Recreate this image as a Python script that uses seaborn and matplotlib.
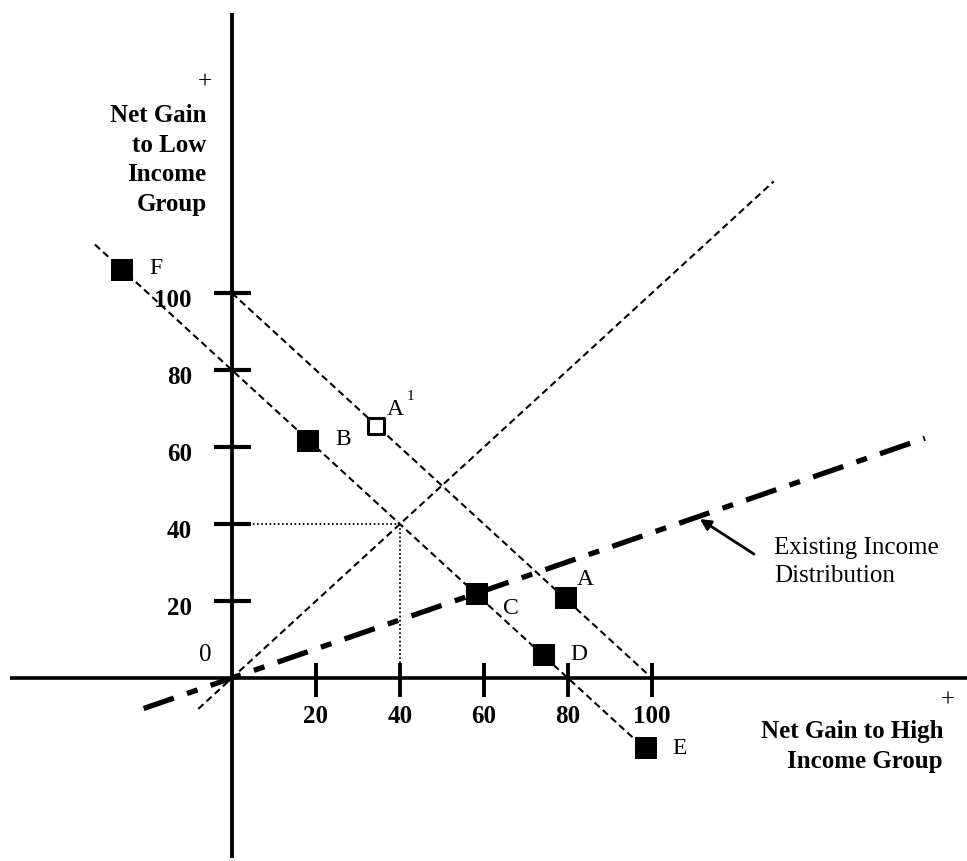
import matplotlib
matplotlib.use("Agg")
import matplotlib.pyplot as plt
import seaborn as sns

# points
point_names = ["A", "A1", "B", "C", "D", "E", "F"]
point_x = [79.5, 34.3, 18.1, 58.3, 74.3, 98.6, -26.2]
point_y = [20.8, 65.5, 61.6, 21.8, 6.0, -18.2, 106.0]
point_filled = [True, False, True, True, True, True, True]

# lines (end points)
upper_x = [0, 100]
upper_y = [100, 0]
lower_x = [-32.6, 98.6]
lower_y = [112.6, -18.6]
equal_x = [-8, 129]
equal_y = [-8, 129]
existing_x = [-21, 165]
existing_y = [-7.9, 62.3]

# axes and ticks
xaxis_x = [-52.9, 175]
yaxis_y = [-46.8, 172.7]
tick_values = [20, 40, 60, 80, 100]
tick_labels = ["20", "40", "60", "80", "100"]
guide_value = 40

sns.set_theme(style="white")
plt.rcParams["font.family"] = ["Liberation Serif", "DejaVu Serif"]
plt.rcParams["lines.scale_dashes"] = False
plt.rcParams["text.color"] = "black"

fig = plt.figure(figsize=(9.67, 8.61), dpi=100)
ax = fig.add_axes([0, 0, 1, 1])
ax.set_xlim(-55.2, 175)
ax.set_ylim(-47.5, 176.1)
ax.axis("off")


def draw(xs, ys, lw, dashes=None, z=2):
    sns.lineplot(x=xs, y=ys, ax=ax, color="black", linewidth=lw,
                 sort=False, estimator=None, zorder=z)
    line = ax.lines[-1]
    if dashes is not None:
        line.set_dashes(dashes)
    line.set_dash_capstyle("butt")
    line.set_solid_capstyle("butt")
    return line


# axes
draw(xaxis_x, [0, 0], 2.6)
draw([0, 0], yaxis_y, 2.8)
for v in tick_values:
    draw([v, v], [3.9, -4.9], 2.8)
    draw([-4.3, 4.5], [v, v], 3.0)

# budget lines, equality line, guides
draw(upper_x, upper_y, 1.5, (5, 3))
draw(lower_x, lower_y, 1.5, (5, 3))
draw(equal_x, equal_y, 1.5, (5, 3))
draw([0, guide_value], [guide_value, guide_value], 1.3, (1.2, 1.8))
draw([guide_value, guide_value], [guide_value, 0], 1.3, (1.2, 1.8))

# existing income distribution
draw(existing_x, existing_y, 3.8, (23, 10, 8, 10), z=2.5)

# markers
fx = [x for x, f in zip(point_x, point_filled) if f]
fy = [y for y, f in zip(point_y, point_filled) if f]
ox = [x for x, f in zip(point_x, point_filled) if not f]
oy = [y for y, f in zip(point_y, point_filled) if not f]
sns.scatterplot(x=fx, y=fy, ax=ax, marker="s", s=250, color="black",
                edgecolor="black", linewidth=0, zorder=4)
sns.scatterplot(x=ox, y=oy, ax=ax, marker="s", s=132, color="white",
                edgecolor="black", linewidth=2.2, zorder=4)

# point labels (offsets in points)
label_offsets = {"A": (8, 13), "A1": (8, 12), "B": (20, 1), "C": (19, -10),
                 "D": (19, 0), "E": (19, 0), "F": (20, 1)}
for name, x, y in zip(point_names, point_x, point_y):
    dx, dy = label_offsets[name]
    txt = "A" if name == "A1" else name
    ax.annotate(txt, (x, y), xytext=(dx, dy), textcoords="offset points",
                ha="left", va="center", fontsize=17, zorder=5)
    if name == "A1":
        ax.annotate("1", (x, y), xytext=(dx + 17, dy + 9),
                    textcoords="offset points", ha="center", va="center",
                    fontsize=11, zorder=5)

# tick labels
for v, lab in zip(tick_values, tick_labels):
    ax.text(v, -9.9, lab, ha="center", va="center", fontsize=18,
            fontweight="bold")
    ax.text(-9.5, v - 2, lab, ha="right", va="center", fontsize=18,
            fontweight="bold")
ax.text(-4.8, 6.0, "0", ha="right", va="center", fontsize=18)

# axis titles
ax.text(-6.4, 154.8, "+", ha="center", va="center", fontsize=18)
ax.text(-6.0, 134.5, "Net Gain\nto Low\nIncome\nGroup", ha="right",
        va="center", multialignment="right", fontsize=18, fontweight="bold",
        linespacing=1.36)
ax.text(170.5, -5.7, "+", ha="center", va="center", fontsize=18)
ax.text(169.3, -17.7, "Net Gain to High\nIncome Group", ha="right",
        va="center", multialignment="right", fontsize=18, fontweight="bold",
        linespacing=1.38)

# annotation for the existing distribution
ax.text(129, 30.1, "Existing Income\nDistribution", ha="left", va="center",
        fontsize=18, linespacing=1.34)
ax.annotate("", xy=(111.4, 41.3), xytext=(124.3, 32.2),
            arrowprops=dict(arrowstyle="-|>", lw=2, color="black",
                            mutation_scale=16, shrinkA=0, shrinkB=0))

fig.savefig("out.png", dpi=100)
